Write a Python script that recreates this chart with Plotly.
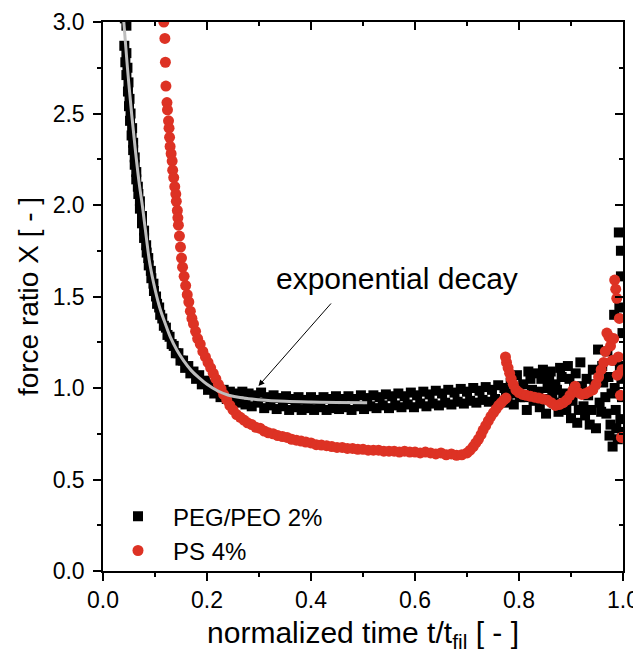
import plotly.graph_objects as go

# PEG/PEO 2% (black squares)
peg_x = [0.042, 0.045, 0.041, 0.045, 0.043, 0.047, 0.045, 0.049, 0.048, 0.051, 0.050, 0.053, 0.052, 0.056, 0.055,
         0.058, 0.058, 0.061, 0.061, 0.064, 0.064, 0.067, 0.068, 0.071, 0.071, 0.075, 0.075, 0.079, 0.079, 0.083,
         0.084, 0.087, 0.088, 0.092, 0.093, 0.097, 0.098, 0.102, 0.104, 0.108, 0.110, 0.114, 0.117, 0.121, 0.124,
         0.128, 0.132, 0.136, 0.140, 0.145, 0.149, 0.154, 0.158, 0.164, 0.168, 0.174, 0.179, 0.185, 0.190, 0.196,
         0.202, 0.208, 0.214, 0.220, 0.226, 0.232, 0.238, 0.244, 0.250, 0.256,
         0.262, 0.268, 0.274, 0.280, 0.286, 0.292, 0.298, 0.304, 0.310, 0.316, 0.322, 0.328, 0.334, 0.340, 0.346,
         0.352, 0.358, 0.364, 0.370, 0.376, 0.382, 0.388, 0.394, 0.400, 0.406, 0.412, 0.418, 0.424, 0.430, 0.436,
         0.442, 0.448, 0.454, 0.460, 0.466, 0.472, 0.478, 0.484, 0.490, 0.496, 0.502, 0.508, 0.514, 0.520, 0.526,
         0.532, 0.538, 0.544, 0.550, 0.556, 0.562, 0.568, 0.574, 0.580, 0.586, 0.592, 0.598, 0.604, 0.610, 0.616,
         0.622, 0.628, 0.634, 0.640, 0.646, 0.652, 0.658, 0.664, 0.670, 0.676, 0.682, 0.688, 0.694, 0.700, 0.706,
         0.712, 0.718, 0.724, 0.730, 0.736, 0.742, 0.748, 0.754, 0.760, 0.766,
         0.772, 0.778, 0.784, 0.790, 0.796, 0.802, 0.808, 0.815, 0.822, 0.828, 0.834, 0.840, 0.846, 0.852, 0.858,
         0.864, 0.870, 0.876, 0.882, 0.888, 0.894, 0.900, 0.906, 0.912, 0.918, 0.924, 0.930, 0.936, 0.942, 0.948,
         0.952, 0.958, 0.962, 0.966, 0.970, 0.974, 0.978, 0.980, 0.983, 0.986, 0.988, 0.990, 0.992, 0.993, 0.995,
         0.996, 0.997, 0.998, 0.999,
         0.775, 0.787, 0.799, 0.811, 0.818, 0.825, 0.837, 0.843, 0.849, 0.855, 0.861, 0.867, 0.873, 0.879, 0.885,
         0.891, 0.897, 0.903, 0.909, 0.915, 0.921, 0.927, 0.933, 0.939, 0.945, 0.955, 0.960, 0.968, 0.972, 0.976,
         0.984, 0.987, 0.994, 0.996, 0.999]
peg_y = [3.02, 2.98, 2.87, 2.83, 2.78, 2.75, 2.71, 2.67, 2.62, 2.58, 2.54, 2.50, 2.46, 2.42, 2.38,
         2.34, 2.30, 2.26, 2.22, 2.18, 2.14, 2.10, 2.06, 2.02, 1.98, 1.94, 1.90, 1.86, 1.82, 1.78,
         1.74, 1.71, 1.67, 1.64, 1.60, 1.57, 1.53, 1.50, 1.46, 1.44, 1.40, 1.38, 1.34, 1.33, 1.29,
         1.28, 1.24, 1.23, 1.19, 1.19, 1.15, 1.15, 1.11, 1.12, 1.08, 1.09, 1.05, 1.07, 1.02, 1.04,
         0.99, 1.02, 0.97, 1.00, 0.95, 0.99, 0.94, 0.98, 0.93, 0.97,
         0.92, 0.98, 0.91, 0.97, 0.90, 0.96, 0.92, 0.975, 0.89, 0.95, 0.905, 0.96, 0.885, 0.945, 0.90,
         0.955, 0.88, 0.94, 0.895, 0.95, 0.88, 0.935, 0.89, 0.95, 0.88, 0.935, 0.895, 0.95, 0.88, 0.94,
         0.89, 0.955, 0.885, 0.94, 0.895, 0.955, 0.88, 0.94, 0.90, 0.96, 0.885, 0.945, 0.90, 0.96, 0.89,
         0.95, 0.905, 0.965, 0.89, 0.955, 0.905, 0.97, 0.895, 0.955, 0.91, 0.975, 0.895, 0.96, 0.915, 0.98,
         0.90, 0.965, 0.915, 0.985, 0.905, 0.97, 0.92, 0.99, 0.91, 0.975, 0.925, 0.995, 0.915, 0.98, 0.93,
         1.00, 0.92, 0.985, 0.935, 1.005, 0.925, 0.99, 0.94, 1.015, 0.93,
         1.00, 0.92, 1.03, 0.91, 1.07, 0.95, 1.02, 0.88, 1.05, 0.93, 1.08, 0.895, 1.10, 0.86, 1.04,
         0.95, 1.02, 0.87, 1.06, 0.91, 1.12, 0.835, 1.00, 0.81, 1.14, 0.90, 1.05, 0.80, 1.10, 0.78,
         1.21, 0.87, 1.03, 0.95, 1.20, 0.74, 0.97, 0.68, 1.40, 0.88, 1.15, 0.72, 1.85, 1.44, 0.83,
         1.75, 1.05, 0.95, 1.30,
         0.96, 0.97, 1.00, 0.95, 1.09, 0.99, 0.98, 1.05, 0.94, 1.00, 1.09, 0.92, 0.99, 1.11, 0.97,
         0.88, 1.05, 0.93, 1.08, 0.88, 1.01, 0.85, 0.96, 0.88, 1.02, 0.92, 1.12, 0.86, 1.06, 0.80,
         1.00, 0.78, 1.12, 1.61, 0.76]

# PS 4% (red circles)
ps_x = [0.117, 0.119, 0.120, 0.121, 0.123, 0.124, 0.126, 0.127, 0.128, 0.129, 0.131, 0.133, 0.134, 0.136, 0.138,
        0.140, 0.141, 0.143, 0.144, 0.145, 0.147, 0.149, 0.151, 0.153, 0.156, 0.159, 0.162, 0.165, 0.168, 0.171,
        0.174, 0.178, 0.182, 0.187, 0.192, 0.197, 0.202, 0.207, 0.212, 0.217, 0.222, 0.227, 0.232, 0.238, 0.244,
        0.250, 0.257, 0.264, 0.271, 0.278, 0.286, 0.294, 0.302, 0.310, 0.318, 0.327, 0.336, 0.345, 0.354, 0.363,
        0.372, 0.381, 0.390, 0.400, 0.410, 0.420, 0.430, 0.440, 0.450, 0.460, 0.470, 0.480, 0.490, 0.500, 0.510,
        0.520, 0.530, 0.540, 0.550, 0.560, 0.570, 0.580, 0.590, 0.600, 0.610, 0.620, 0.630, 0.640, 0.650, 0.660,
        0.670, 0.680, 0.690, 0.700, 0.706, 0.712, 0.717, 0.722, 0.727, 0.731, 0.736, 0.741, 0.746, 0.751, 0.756,
        0.761, 0.766, 0.771, 0.775,
        0.774, 0.776, 0.779, 0.782, 0.785, 0.789, 0.794, 0.800, 0.807, 0.814, 0.822, 0.830, 0.838, 0.846, 0.854,
        0.862, 0.870, 0.878, 0.885, 0.892, 0.898, 0.904, 0.908, 0.914, 0.921, 0.928, 0.935, 0.942, 0.948, 0.953,
        0.958, 0.963, 0.966, 0.969, 0.973, 0.976, 0.979, 0.982, 0.984, 0.986, 0.988, 0.989, 0.991, 0.993, 0.995,
        0.997, 0.998]
ps_y = [3.00, 2.91, 2.78, 2.65, 2.56, 2.52, 2.46, 2.42, 2.37, 2.32, 2.28, 2.24, 2.19, 2.15, 2.10,
        2.06, 2.02, 1.97, 1.93, 1.89, 1.83, 1.77, 1.71, 1.66, 1.61, 1.56, 1.51, 1.47, 1.42, 1.38,
        1.35, 1.31, 1.27, 1.24, 1.20, 1.17, 1.14, 1.11, 1.08, 1.05, 1.02, 0.995, 0.965, 0.935, 0.905,
        0.88, 0.855, 0.84, 0.825, 0.81, 0.80, 0.785, 0.78, 0.765, 0.755, 0.75, 0.74, 0.735, 0.73, 0.72,
        0.715, 0.71, 0.705, 0.70, 0.69, 0.688, 0.685, 0.68, 0.675, 0.675, 0.67, 0.67, 0.665, 0.665, 0.66,
        0.66, 0.66, 0.655, 0.655, 0.655, 0.65, 0.655, 0.65, 0.65, 0.645, 0.65, 0.645, 0.64, 0.645, 0.635,
        0.64, 0.632, 0.635, 0.645, 0.66, 0.68, 0.70, 0.72, 0.745, 0.77, 0.795, 0.82, 0.845, 0.865, 0.885,
        0.905, 0.92, 0.935, 0.945,
        1.17, 1.14, 1.11, 1.08, 1.05, 1.02, 0.99, 0.975, 0.965, 0.96, 0.955, 0.95, 0.945, 0.94, 0.935,
        0.92, 0.905, 0.91, 0.92, 0.935, 0.96, 0.99, 1.01, 0.975, 0.965, 0.97, 0.98, 0.99, 1.02, 1.06,
        1.10, 1.14, 1.20, 1.30, 1.28, 1.23, 1.15, 1.27, 1.59, 1.54, 1.49, 1.07, 1.17, 1.38, 0.96,
        0.73, 1.10]

# exponential decay fit (grey line)
fit_x = [0.040, 0.047, 0.055, 0.063, 0.070, 0.076, 0.083, 0.090, 0.100, 0.110, 0.120, 0.130, 0.142, 0.155,
         0.170, 0.185, 0.200, 0.220, 0.240, 0.270, 0.300, 0.350, 0.400, 0.450, 0.508]
fit_y = [3.0, 2.75, 2.50, 2.28, 2.11, 1.99, 1.83, 1.68, 1.54, 1.43, 1.35, 1.275, 1.208, 1.15,
         1.095, 1.055, 1.02, 0.985, 0.962, 0.945, 0.936, 0.927, 0.923, 0.921, 0.920]

font_family = "Arial, Liberation Sans, sans-serif"

fig = go.Figure()
fig.add_trace(go.Scatter(x=peg_x, y=peg_y, mode="markers", name="PEG/PEO 2%",
                         marker=dict(symbol="square", size=10, color="black")))
fig.add_trace(go.Scatter(x=ps_x, y=ps_y, mode="markers", name="PS 4%",
                         marker=dict(symbol="circle", size=11, color="#DD3224")))
fig.add_trace(go.Scatter(x=fit_x, y=fit_y, mode="lines", line=dict(color="#BDBDBD", width=3, shape="spline"),
                         showlegend=False))
# empty trace so the top/right axes get drawn
fig.add_trace(go.Scatter(x=[], y=[], xaxis="x2", yaxis="y2", showlegend=False))

axis_common = dict(showline=True, linecolor="black", linewidth=1.5, showgrid=False, zeroline=False,
                   tickcolor="black", tickwidth=1.5, ticklen=8, automargin=False)

# page body has an 8px margin, so the figure starts 8px in from the window edge
fig.update_layout(
    width=633, height=645,
    margin=dict(l=95, r=18, t=14, b=82),
    paper_bgcolor="white", plot_bgcolor="white",
    font=dict(family=font_family, color="black"),
    xaxis=dict(range=[0, 1.0], dtick=0.2, tickformat=".1f", ticks="outside",
               tickfont=dict(size=23),
               minor=dict(dtick=0.1, ticks="outside", ticklen=4, tickcolor="black", tickwidth=1.5),
               title=dict(text="normalized time t/t<sub>fil</sub> [ - ]", font=dict(size=30), standoff=12),
               **axis_common),
    yaxis=dict(range=[0, 3.0], dtick=0.5, tickformat=".1f", ticks="outside",
               tickfont=dict(size=23), ticklabelstandoff=4,
               minor=dict(dtick=0.25, ticks="outside", ticklen=4, tickcolor="black", tickwidth=1.5),
               title=dict(text="force ratio X [ - ]", font=dict(size=28), standoff=6),
               **axis_common),
    xaxis2=dict(range=[0, 1.0], dtick=0.2, overlaying="x", side="top", anchor="y", ticks="inside",
                showticklabels=False,
                minor=dict(dtick=0.1, ticks="inside", ticklen=4, tickcolor="black", tickwidth=1.5),
                **axis_common),
    yaxis2=dict(range=[0, 3.0], dtick=0.5, overlaying="y", side="right", anchor="x", ticks="inside",
                showticklabels=False,
                minor=dict(dtick=0.25, ticks="inside", ticklen=4, tickcolor="black", tickwidth=1.5),
                **axis_common),
    legend=dict(x=0.0, y=-0.004, xanchor="left", yanchor="bottom", bgcolor="rgba(0,0,0,0)",
                font=dict(size=24), itemwidth=60),
    showlegend=True,
)

# arrow + label
fig.add_annotation(x=0.299, y=1.011, ax=0.441, ay=1.47, axref="x", ayref="y", xref="x", yref="y",
                   text="", showarrow=True, arrowhead=2, arrowsize=1.2, arrowwidth=1, arrowcolor="black")
fig.add_annotation(x=0.566, y=1.60, xref="x", yref="y", text="exponential decay", showarrow=False,
                   font=dict(size=30, family=font_family, color="black"))

fig.write_html("out.html")
